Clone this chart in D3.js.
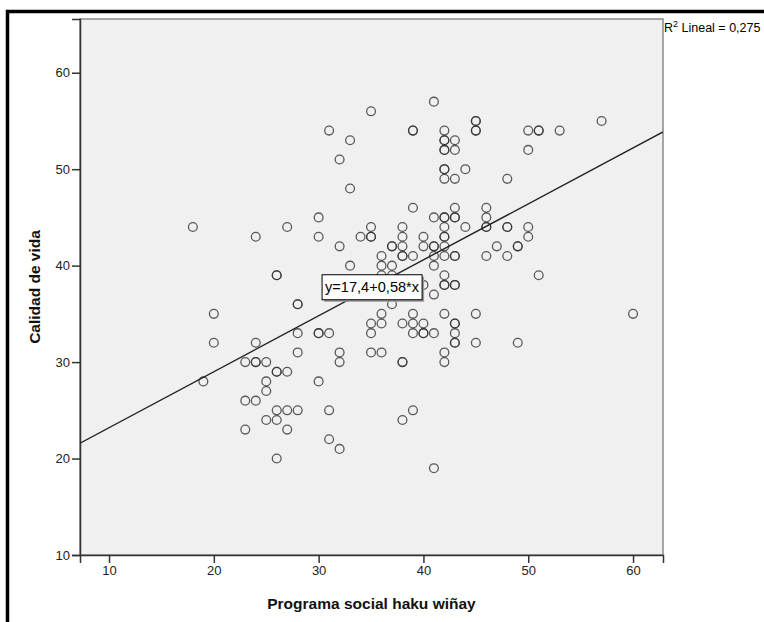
<!DOCTYPE html>
<html>
<head>
<meta charset="utf-8">
<script src="https://cdn.jsdelivr.net/npm/d3@7"></script>
<style>
  body { margin: 0; background: #fff; }
  svg { display: block; font-family: "Liberation Sans", Arial, sans-serif; }
</style>
</head>
<body>
<svg id="chart" width="764" height="622"></svg>
<script>
// ---- data ----
const programa = [18,19,20,20,23,23,23,24,24,24,24,24,25,25,25,25,26,26,26,26,26,26,26,27,27,27,27,28,28,28,28,28,
  30,30,30,30,30,31,31,31,31,32,32,32,32,32,33,33,33,34,35,35,35,35,35,35,35,36,36,36,36,36,36,37,37,37,37,37,
  38,38,38,38,38,38,38,38,38,39,39,39,39,39,39,39,39,40,40,40,40,40,40,41,41,41,41,41,41,41,41,41,
  42,42,42,42,42,42,42,42,42,42,42,42,42,42,42,42,42,42,42,42,42,
  43,43,43,43,43,43,43,43,43,43,43,43,43,43,43,44,44,45,45,45,45,45,45,46,46,46,46,46,47,48,48,48,48,49,49,49,
  50,50,50,50,51,51,51,53,57,60];
const calidad = [44,28,35,32,30,26,23,43,32,30,30,26,30,28,27,24,39,39,29,29,25,24,20,44,29,25,23,36,36,33,31,25,
  45,43,33,33,28,54,33,25,22,51,42,31,30,21,53,48,40,43,56,44,43,43,34,33,31,41,40,39,35,34,31,42,42,40,39,36,
  44,43,42,41,41,34,30,30,24,54,54,46,41,35,34,33,25,43,42,38,34,33,33,57,45,42,42,41,40,37,33,19,
  54,53,53,52,52,50,50,49,45,45,44,43,43,42,41,39,38,38,35,31,30,
  53,52,49,46,45,45,41,41,38,38,34,34,33,32,32,50,44,55,55,54,54,35,32,46,45,44,44,41,42,49,44,44,41,42,42,32,
  54,52,44,43,54,54,39,54,55,35];
const xTicks = [10, 20, 30, 40, 50, 60];
const yTicks = [10, 20, 30, 40, 50, 60];
const intercept = 17.4;
const slope = 0.58;
const fitLabel = "y=17,4+0,58*x";
const r2Value = "0,275";
const xTitle = "Programa social haku wiñay";
const yTitle = "Calidad de vida";

// ---- layout ----
const svg = d3.select("#chart");
const pL = 80, pR = 663, pT = 19, pB = 555;
const x = d3.scaleLinear().domain([7.23, 62.86]).range([pL, pR]);
const y = d3.scaleLinear().domain([10, 65.57]).range([pB, pT]);

// outer black frame (top and left visible)
svg.append("path")
  .attr("d", `M7.5,622 V11.5 H764`)
  .attr("fill", "none").attr("stroke", "#000").attr("stroke-width", 3.5);

// plot area
svg.append("rect")
  .attr("x", pL).attr("y", pT).attr("width", pR - pL).attr("height", pB - pT)
  .attr("fill", "#f0f0f0").attr("stroke", "#8a8a8a").attr("stroke-width", 1.5);

const clip = svg.append("clipPath").attr("id", "clip");
clip.append("rect").attr("x", pL).attr("y", pT).attr("width", pR - pL).attr("height", pB - pT);

// axes
const xAxis = svg.append("g").attr("transform", `translate(0,${pB})`)
  .call(d3.axisBottom(x).tickValues(xTicks).tickSize(8).tickPadding(3).tickFormat(d3.format("d")));
const yAxis = svg.append("g").attr("transform", `translate(${pL},0)`)
  .call(d3.axisLeft(y).tickValues(yTicks).tickSize(8).tickPadding(2).tickFormat(d3.format("d")));
[xAxis, yAxis].forEach(g => {
  g.select(".domain").attr("stroke", "#333").attr("stroke-width", 1.5);
  g.selectAll(".tick line").attr("stroke", "#333").attr("stroke-width", 1.5);
  g.selectAll("text").attr("font-size", 13).attr("fill", "#222")
    .attr("font-family", "'Liberation Sans', Arial, sans-serif");
});

// points
const pts = programa.map((v, i) => ({x: v, y: calidad[i]}));
svg.append("g").attr("clip-path", "url(#clip)")
  .selectAll("circle").data(pts).join("circle")
  .attr("cx", d => x(d.x)).attr("cy", d => y(d.y)).attr("r", 4.4)
  .attr("fill", "none").attr("stroke", "#333").attr("stroke-opacity", 0.8).attr("stroke-width", 1.3);

// fit line
const xd = x.domain();
svg.append("line").attr("clip-path", "url(#clip)")
  .attr("x1", x(xd[0])).attr("y1", y(intercept + slope * xd[0]))
  .attr("x2", x(xd[1])).attr("y2", y(intercept + slope * xd[1]))
  .attr("stroke", "#222").attr("stroke-width", 1.4);

// equation label box
const lx = 35.1, cx = x(lx), cy = y(intercept + slope * lx);
const bw = 100, bh = 25;
svg.append("rect").attr("x", cx - bw / 2 + 2).attr("y", cy - bh / 2 + 2).attr("width", bw).attr("height", bh)
  .attr("fill", "#9a9a9a");
svg.append("rect").attr("x", cx - bw / 2).attr("y", cy - bh / 2).attr("width", bw).attr("height", bh)
  .attr("fill", "#fff").attr("stroke", "#000").attr("stroke-width", 1);
svg.append("text").attr("x", cx).attr("y", cy + 5).attr("text-anchor", "middle")
  .attr("font-size", 14).attr("textLength", 94).attr("lengthAdjust", "spacingAndGlyphs")
  .attr("fill", "#000").text(fitLabel);

// R² label
const r2 = svg.append("text").attr("x", 664).attr("y", 32).attr("font-size", 12.5).attr("fill", "#000");
r2.append("tspan").text("R");
r2.append("tspan").attr("font-size", 9).attr("dy", -5).text("2");
r2.append("tspan").attr("dy", 5).text(" Lineal = " + r2Value);

// titles
svg.append("text").attr("x", (pL + pR) / 2).attr("y", 609).attr("text-anchor", "middle")
  .attr("font-size", 15.5).attr("font-weight", "bold").attr("fill", "#111").text(xTitle);
svg.append("text").attr("transform", `translate(40,${(pT + pB) / 2}) rotate(-90)`)
  .attr("text-anchor", "middle").attr("font-size", 15.5).attr("font-weight", "bold").attr("fill", "#111")
  .text(yTitle);
</script>
</body>
</html>
